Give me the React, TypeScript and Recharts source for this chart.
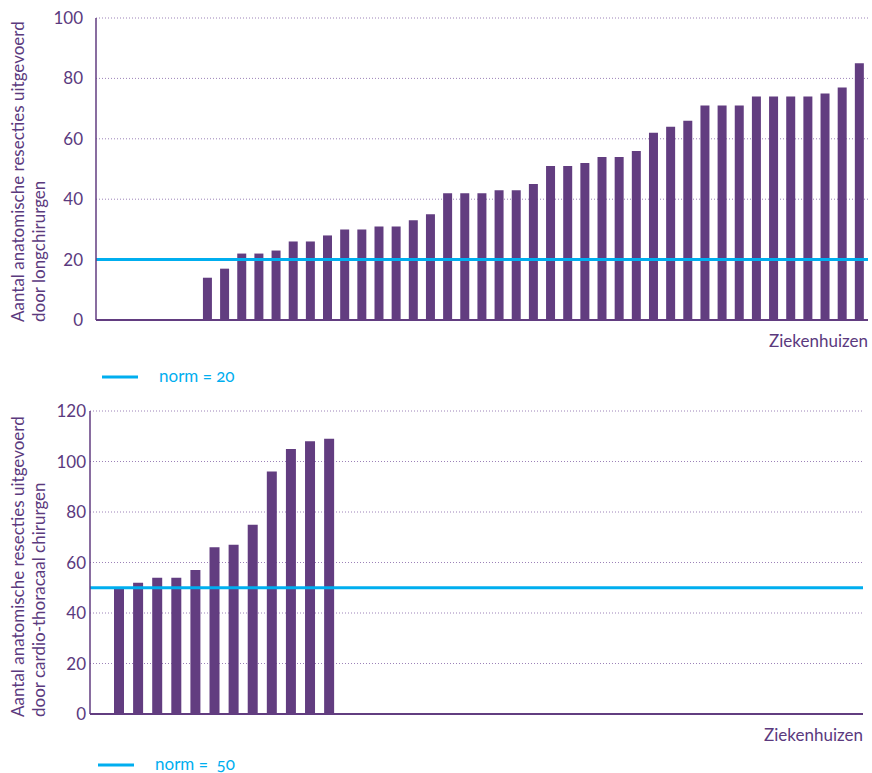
import React from "react";
import { BarChart, Bar, XAxis, YAxis, CartesianGrid, ReferenceLine } from "recharts";

const PURPLE = "#623d80";
const TEXT = "#5b3a7e";
const CYAN = "#00aeef";
const GRID = "#9c82b8";
const FONT = "Lato, 'Open Sans', sans-serif";

// Longchirurgen: 45 ziekenhuizen, de eerste 6 zonder waarde
const longValues: (number | null)[] = [
  null, null, null, null, null, null,
  14, 17, 22, 22, 23, 26, 26, 28, 30, 30, 31, 31, 33, 35,
  42, 42, 42, 43, 43, 45, 51, 51, 52, 54, 54, 56, 62, 64,
  66, 71, 71, 71, 74, 74, 74, 74, 75, 77, 85,
];
const longTicks = [0, 20, 40, 60, 80, 100];
const longNorm = 20;

// Cardio-thoracaal chirurgen: 39 posities, 12 ziekenhuizen met waarde
const cardioValues: (number | null)[] = [
  50, 52, 54, 54, 57, 66, 67, 75, 96, 105, 108, 109,
  null, null, null, null, null, null, null, null, null, null,
  null, null, null, null, null, null, null, null, null, null,
  null, null, null, null, null, null, null,
];
const cardioTicks = [0, 20, 40, 60, 80, 100, 120];
const cardioNorm = 50;

const xTitle = "Ziekenhuizen";
const yTitleTop = ["Aantal anatomische resecties uitgevoerd", "door longchirurgen"];
const yTitleBottom = ["Aantal anatomische resecties uitgevoerd", "door cardio-thoracaal chirurgen"];

const tickStyle = {
  fontSize: 17,
  fill: TEXT,
  fontFamily: FONT,
  fontVariantNumeric: "oldstyle-nums",
} as any;

const toRows = (vals: (number | null)[]) => vals.map((v, i) => ({ name: `Z${i + 1}`, value: v }));

const App: React.FC = () => {
  const longData = toRows(longValues);
  const cardioData = toRows(cardioValues);

  return (
    <div style={{ position: "absolute", left: 0, top: 0, width: 872, height: 773, background: "#fff", fontFamily: FONT }}>
      {/* bovenste grafiek */}
      <div style={{ position: "absolute", left: 0, top: 0 }}>
        <BarChart width={872} height={340} data={longData} margin={{ top: 18, right: 4, left: 0, bottom: 18 }}>
          <CartesianGrid vertical={false} stroke={GRID} strokeDasharray="1 2" />
          <XAxis dataKey="name" tick={false} tickLine={false} height={2} axisLine={{ stroke: PURPLE, strokeWidth: 2 }} />
          <YAxis
            width={96}
            domain={[0, 100]}
            ticks={longTicks}
            interval={0}
            tickLine={false}
            tickSize={0}
            tickMargin={13}
            axisLine={{ stroke: PURPLE, strokeWidth: 1.5 }}
            tick={tickStyle}
          />
          <Bar dataKey="value" fill={PURPLE} barSize={9} isAnimationActive={false} />
          <ReferenceLine y={longNorm} stroke={CYAN} strokeWidth={3} />
        </BarChart>
      </div>

      {/* onderste grafiek */}
      <div style={{ position: "absolute", left: 0, top: 393 }}>
        <BarChart width={872} height={341} data={cardioData} margin={{ top: 18, right: 9, left: 0, bottom: 18 }}>
          <CartesianGrid vertical={false} stroke={GRID} strokeDasharray="1 2" />
          <XAxis
            dataKey="name"
            tick={false}
            tickLine={false}
            height={2}
            padding={{ left: 19, right: 9 }}
            axisLine={{ stroke: PURPLE, strokeWidth: 2 }}
          />
          <YAxis
            width={90}
            domain={[0, 120]}
            ticks={cardioTicks}
            interval={0}
            tickLine={false}
            tickSize={0}
            tickMargin={4}
            axisLine={{ stroke: PURPLE, strokeWidth: 1.5 }}
            tick={tickStyle}
          />
          <Bar dataKey="value" fill={PURPLE} barSize={10} isAnimationActive={false} />
          <ReferenceLine y={cardioNorm} stroke={CYAN} strokeWidth={3} />
        </BarChart>
      </div>

      {/* titels en legenda */}
      <svg width={872} height={773} style={{ position: "absolute", left: 0, top: 0, pointerEvents: "none" }}>
        <g fontFamily={FONT} fontSize={17} fill={TEXT}>
          <text transform="translate(24,322) rotate(-90)" textAnchor="start">{yTitleTop[0]}</text>
          <text transform="translate(45,322) rotate(-90)" textAnchor="start">{yTitleTop[1]}</text>
          <text transform="translate(24,717) rotate(-90)" textAnchor="start">{yTitleBottom[0]}</text>
          <text transform="translate(45,717) rotate(-90)" textAnchor="start">{yTitleBottom[1]}</text>
          <text x={868} y={347} textAnchor="end">{xTitle}</text>
          <text x={863} y={741} textAnchor="end">{xTitle}</text>
        </g>
        <line x1={102} x2={138} y1={377} y2={377} stroke={CYAN} strokeWidth={3} />
        <text x={159} y={382} fontFamily={FONT} fontSize={17} fill={CYAN} style={{ fontVariantNumeric: "oldstyle-nums" }}>
          norm = 20
        </text>
        <line x1={98} x2={134} y1={765} y2={765} stroke={CYAN} strokeWidth={3} />
        <text x={155} y={770} fontFamily={FONT} fontSize={17} fill={CYAN} style={{ fontVariantNumeric: "oldstyle-nums", whiteSpace: "pre" }}>
          {"norm =  50"}
        </text>
      </svg>
    </div>
  );
};

export default App;
